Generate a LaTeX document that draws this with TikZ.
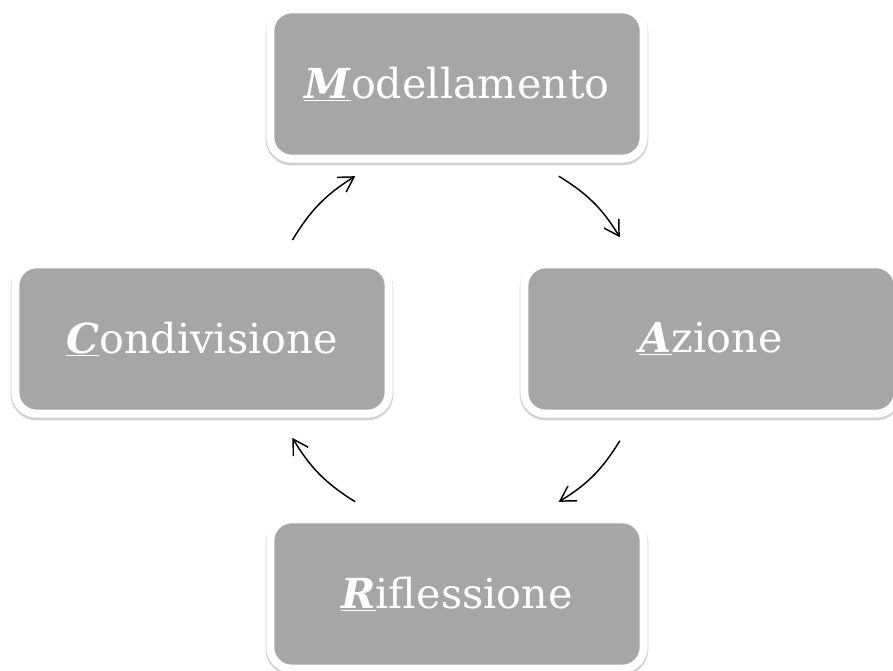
\documentclass[tikz,border=0pt]{standalone}
\usepackage{fontspec}
\setmainfont{DejaVu Serif}
\usetikzlibrary{arrows.meta}
\definecolor{boxgray}{HTML}{A6A6A6}
\tikzset{
  stage/.style={rectangle, rounded corners=16pt, fill=boxgray, draw=white,
    line width=6pt, minimum width=280pt, minimum height=112pt,
    text=white, font=\fontsize{31}{36}\selectfont,
    preaction={draw=black!18, line width=7pt, transform canvas={yshift=-1.5pt}}},
  cycle/.style={-{Straight Barb[length=11pt,width=13pt]}, line width=1.1pt, black}
}
\newcommand{\initial}[1]{\underline{\textbf{\textit{#1}}}}
\begin{document}
\begin{tikzpicture}[x=0.75pt, y=0.75pt]
      \useasboundingbox (0,0) rectangle (893,671);
      \begin{scope}[shift={(457,332)}]
      \draw
        (90:255) node[stage] (mod){\initial{M}odellamento}
        (0:254) node[stage] (azi){\initial{A}zione}
        (270:255) node[stage] (rif){\initial{R}iflessione}
        (180:255) node[stage] (con){\initial{C}ondivisione};
      \path
        (149:192) coordinate (c1) (122:192) coordinate (m1)
        (58:192) coordinate (m2) (32:192) coordinate (a1)
        (-32:192) coordinate (a2) (-58:192) coordinate (r1)
        (-122:192) coordinate (r2) (-149:192) coordinate (c2);
      \begin{scope}[cycle]
        \draw (c1) to[bend left=13.5] (m1);
        \draw (m2) to[bend left=13.5] (a1);
        \draw (a2) to[bend left=13.5] (r1);
        \draw (r2) to[bend left=13.5] (c2);
      \end{scope}
      \end{scope}
    \end{tikzpicture}
\end{document}
